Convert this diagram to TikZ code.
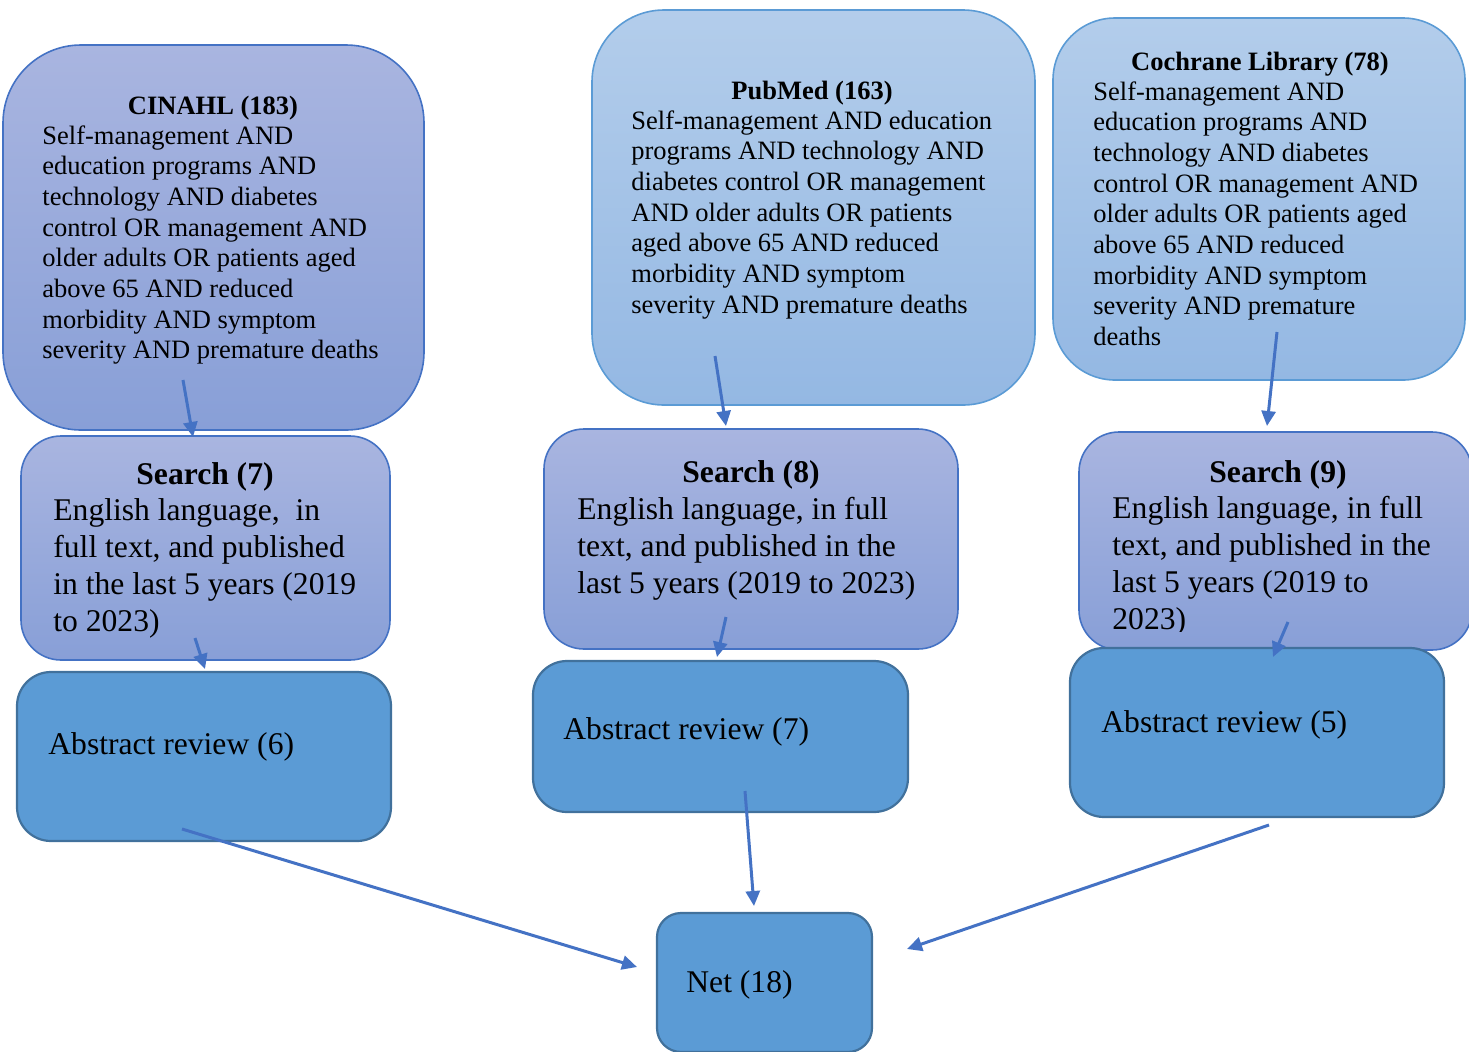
\documentclass[tikz,border=0pt]{standalone}
\usepackage{fontspec}
\setmainfont{Liberation Serif}
\usetikzlibrary{arrows.meta}
\definecolor{cinTop}{HTML}{A9B5E0}
\definecolor{cinBot}{HTML}{889FD7}
\definecolor{pubTop}{HTML}{B3CDEB}
\definecolor{pubBot}{HTML}{94B8E3}
\definecolor{bdPurp}{HTML}{4472C4}
\definecolor{bdBlue}{HTML}{5B9BD5}
\definecolor{absFill}{HTML}{5B9BD5}
\definecolor{absLine}{HTML}{41719C}
\definecolor{arrCol}{HTML}{4472C4}
\newcommand{\mylines}[1]{\begin{tabular}[t]{@{}l@{}}#1\end{tabular}}
\tikzset{
  basebox/.style={anchor=north west, inner sep=0pt, outer sep=0pt},
  srcpurple/.style={basebox, draw=bdPurp, line width=0.8pt, top color=cinTop, bottom color=cinBot},
  srcblue/.style={basebox, draw=bdBlue, line width=0.8pt, top color=pubTop, bottom color=pubBot},
  absbox/.style={basebox, draw=absLine, line width=1.1pt, fill=absFill},
  smalltxt/.style={inner sep=0pt, anchor=base west, font=\fontsize{13.25}{15.35}\selectfont},
  smalltitle/.style={inner sep=0pt, anchor=base, font=\fontsize{13.25}{15.35}\selectfont\bfseries},
  bigtxt/.style={inner sep=0pt, anchor=base west, font=\fontsize{15.8}{18.6}\selectfont},
  bigtitle/.style={inner sep=0pt, anchor=base, font=\fontsize{15.8}{18.6}\selectfont\bfseries},
  arr/.style={draw=arrCol, line width=1.5pt, -{Triangle[width=7pt,length=7.5pt]}}
}
\begin{document}
\begin{tikzpicture}[x=0.5pt,y=-0.5pt]
\useasboundingbox (0,0) rectangle (1469,1051);
% top source boxes
\node[srcpurple, rounded corners=39pt, minimum width=210.5pt, minimum height=192.5pt] (cinahl) at (3,45) {};
\node[srcblue, rounded corners=36pt, minimum width=221.5pt, minimum height=197.5pt] (pubmed) at (592,10) {};
\node[srcblue, rounded corners=31pt, minimum width=206pt, minimum height=181pt] (cochrane) at (1053,18) {};
% search boxes
\node[srcpurple, rounded corners=20pt, minimum width=184.5pt, minimum height=112pt] (s7) at (21,436) {};
\node[srcpurple, rounded corners=20pt, minimum width=207pt, minimum height=110pt] (s8) at (544,429) {};
\node[srcpurple, rounded corners=20pt, minimum width=196.5pt, minimum height=109pt] (s9) at (1079,432) {};
% texts of top boxes
\node[smalltitle] (cinT) at (213,114) {CINAHL (183)};
\node[smalltxt] (cinB) at (42,144) {\mylines{Self-management AND\\
education programs AND\\
technology AND diabetes\\
control OR management AND\\
older adults OR patients aged\\
above 65 AND reduced\\
morbidity AND symptom\\
severity AND premature deaths}};
\node[smalltitle] (pubT) at (812,99) {PubMed (163)};
\node[smalltxt] (pubB) at (631,129) {\mylines{Self-management AND education\\
programs AND technology AND\\
diabetes control OR management\\
AND older adults OR patients\\
aged above 65 AND reduced\\
morbidity AND symptom\\
severity AND premature deaths}};
\node[smalltitle] (cocT) at (1260,70) {Cochrane Library (78)};
\node[smalltxt] (cocB) at (1093,100) {\mylines{Self-management AND\\
education programs AND\\
technology AND diabetes\\
control OR management AND\\
older adults OR patients aged\\
above 65 AND reduced\\
morbidity AND symptom\\
severity AND premature\\
deaths}};
% texts of search boxes
\node[bigtitle] (s7T) at (205,484) {Search (7)};
\node[bigtxt] (s7B) at (53,520) {\mylines{English language,\ \ in\\
full text,\ and published\\
in the last 5 years (2019\\
to 2023)}};
\node[bigtitle] (s8T) at (751,482) {Search (8)};
\node[bigtxt] (s8B) at (577,519) {\mylines{English language,\ in full\\
text,\ and published in the\\
last 5 years (2019 to 2023)}};
\node[bigtitle] (s9T) at (1278,482) {Search (9)};
\begin{scope}
\clip (1079,432) rectangle (1469,631);
\node[bigtxt] (s9B) at (1112,518) {\mylines{English language,\ in full\\
text,\ and published in the\\
last 5 years (2019 to\\
2023)}};
\end{scope}
% abstract boxes
\node[absbox, rounded corners=17pt, minimum width=187pt, minimum height=84.5pt] (a6) at (17,672) {};
\node[absbox, rounded corners=17pt, minimum width=187.5pt, minimum height=75.5pt] (a7) at (533,661) {};
\node[absbox, rounded corners=17pt, minimum width=187pt, minimum height=84.5pt] (a5) at (1070,648) {};
\node[absbox, rounded corners=12pt, minimum width=107.5pt, minimum height=69.5pt] (net) at (657,913) {};
\node[bigtxt] (a6T) at (48,754) {Abstract review (6)};
\node[bigtxt] (a7T) at (563,739) {Abstract review (7)};
\node[bigtxt] (a5T) at (1101,732) {Abstract review (5)};
\node[bigtxt] (netT) at (686,992) {Net (18)};
% connector end points
\coordinate (c1s) at (183,380); \coordinate (c1e) at (193,437);
\coordinate (c2s) at (715,356); \coordinate (c2e) at (726,426);
\coordinate (c3s) at (1277,332); \coordinate (c3e) at (1267,426);
\coordinate (c4s) at (195,638); \coordinate (c4e) at (205,669);
\coordinate (c5s) at (726,617); \coordinate (c5e) at (717,657);
\coordinate (c6s) at (1288,622); \coordinate (c6e) at (1273,657);
\coordinate (c7s) at (182,829); \coordinate (c7e) at (637,967);
\coordinate (c8s) at (745,791); \coordinate (c8e) at (754,906);
\coordinate (c9s) at (1269,825); \coordinate (c9e) at (907,949);
\draw[arr] (c1s) -- (c1e);
\draw[arr] (c2s) -- (c2e);
\draw[arr] (c3s) -- (c3e);
\draw[arr] (c4s) -- (c4e);
\draw[arr] (c5s) -- (c5e);
\draw[arr] (c6s) -- (c6e);
\draw[arr] (c7s) -- (c7e);
\draw[arr] (c8s) -- (c8e);
\draw[arr] (c9s) -- (c9e);
\end{tikzpicture}
\end{document}
